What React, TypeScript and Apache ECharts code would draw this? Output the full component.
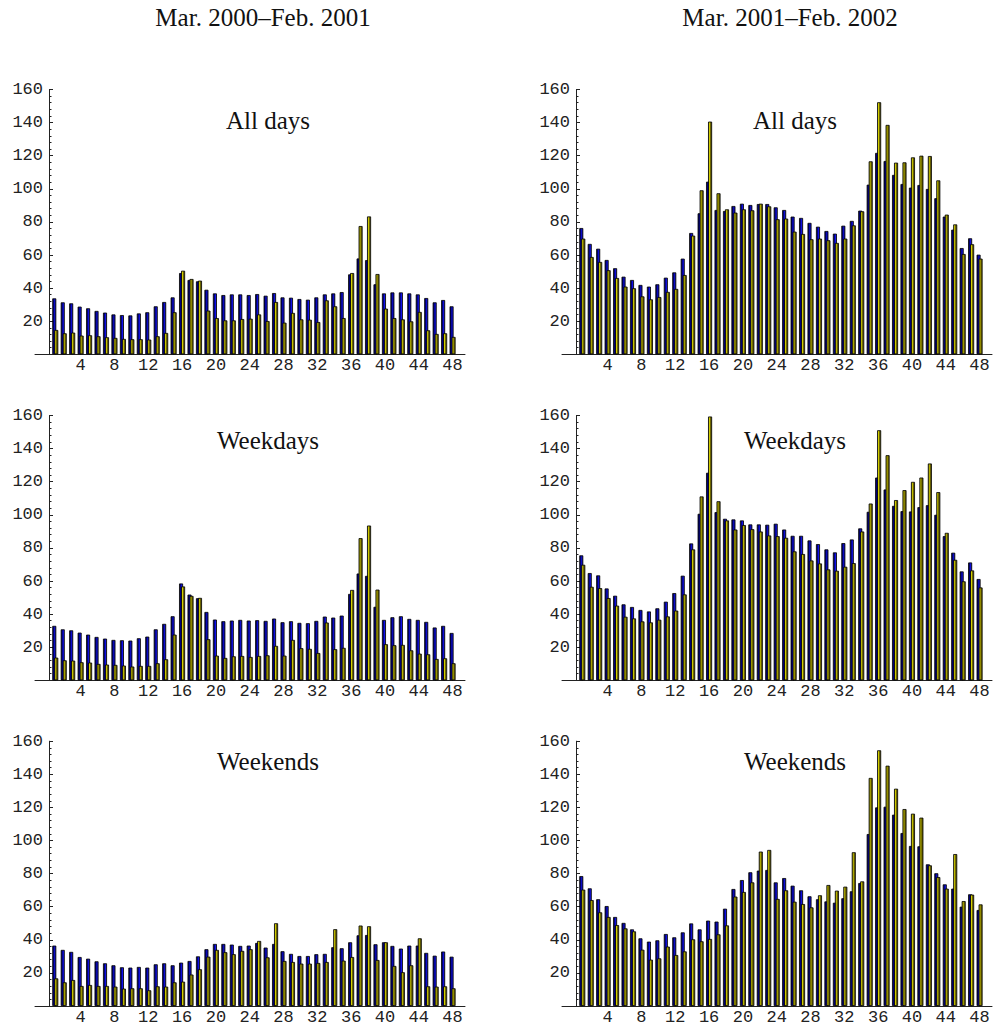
import React, { useEffect, useRef } from 'react';
import * as echarts from 'echarts';

// ---------- data ----------
const slots = [
  1, 2, 3, 4, 5, 6, 7, 8, 9, 10, 11, 12, 13, 14, 15, 16, 17, 18, 19, 20, 21, 22, 23, 24,
  25, 26, 27, 28, 29, 30, 31, 32, 33, 34, 35, 36, 37, 38, 39, 40, 41, 42, 43, 44, 45, 46, 47, 48,
];
const xTickLabels = [4, 8, 12, 16, 20, 24, 28, 32, 36, 40, 44, 48];
const yTickLabels = [20, 40, 60, 80, 100, 120, 140, 160];
const periodTitles = ['Mar. 2000–Feb. 2001', 'Mar. 2001–Feb. 2002'];
const panelTitles = ['All days', 'Weekdays', 'Weekends'];

// Mar. 2000 – Feb. 2001
const allDays2000A = [
  33.8, 31.4, 30.8, 28.8, 27.8, 26.2, 25.2, 24.1, 23.7, 23.5,
  24.7, 25.4, 29.0, 31.6, 34.4, 49.1, 44.9, 44.1, 39.0, 36.8,
  35.8, 36.2, 36.2, 35.8, 36.4, 35.4, 37.0, 34.4, 34.2, 33.4,
  33.0, 34.4, 36.2, 36.8, 37.6, 48.3, 57.9, 56.9, 42.3, 36.8,
  37.4, 37.4, 36.8, 36.2, 34.0, 31.4, 32.8, 29.0,
];
const allDays2000B = [
  14.7, 12.7, 13.1, 11.3, 11.5, 10.9, 10.3, 9.9, 9.3, 9.1,
  9.1, 8.9, 10.9, 12.9, 25.4, 50.5, 45.5, 44.5, 26.4, 21.9,
  20.5, 20.5, 21.3, 21.5, 24.1, 20.1, 31.6, 19.1, 25.0, 21.1,
  20.9, 19.5, 32.6, 29.0, 21.9, 49.1, 77.5, 83.3, 48.5, 27.6,
  21.9, 21.1, 19.9, 25.6, 14.5, 12.3, 12.7, 10.5,
];
const weekdays2000A = [
  32.9, 30.8, 30.2, 28.8, 27.6, 26.2, 25.2, 24.4, 24.2, 24.0,
  25.4, 26.4, 30.8, 34.1, 38.7, 58.5, 51.8, 49.6, 41.3, 36.7,
  35.7, 36.1, 36.5, 36.1, 36.3, 35.9, 37.3, 35.1, 35.7, 34.7,
  34.5, 35.9, 38.5, 37.9, 39.1, 52.2, 64.5, 63.1, 44.4, 36.5,
  38.1, 38.7, 37.1, 36.5, 35.3, 31.9, 32.9, 28.6,
];
const weekdays2000B = [
  13.7, 12.1, 11.9, 10.9, 10.7, 9.9, 9.5, 9.3, 8.9, 8.3,
  8.7, 8.7, 10.3, 12.7, 27.6, 56.7, 51.0, 49.8, 24.8, 14.9,
  13.5, 14.5, 14.7, 14.1, 14.7, 15.1, 20.8, 14.9, 24.4, 19.4,
  19.0, 16.5, 34.9, 18.8, 19.6, 54.6, 85.9, 93.5, 54.8, 21.8,
  21.2, 21.4, 18.1, 16.1, 15.7, 12.9, 13.3, 10.3,
];
const weekends2000A = [
  36.5, 33.9, 32.7, 29.6, 28.6, 27.0, 25.8, 24.6, 23.4, 23.2,
  23.6, 23.2, 25.2, 25.8, 24.6, 26.2, 27.2, 30.0, 34.3, 37.5,
  37.5, 37.1, 36.3, 36.5, 38.1, 35.3, 37.5, 33.1, 31.5, 30.2,
  30.2, 31.3, 31.5, 35.5, 34.9, 38.5, 42.7, 42.9, 37.3, 38.5,
  36.3, 34.7, 36.5, 36.5, 32.1, 30.4, 32.9, 29.8,
];
const weekends2000B = [
  16.7, 14.3, 15.7, 12.1, 12.7, 12.1, 12.1, 11.7, 10.5, 10.7,
  10.7, 9.5, 11.9, 11.7, 14.3, 14.7, 19.0, 22.2, 29.8, 33.9,
  32.5, 31.3, 33.3, 34.3, 39.3, 29.4, 50.0, 27.2, 26.6, 25.6,
  25.6, 26.0, 26.6, 46.4, 27.4, 29.6, 48.6, 48.2, 27.8, 38.5,
  24.2, 20.4, 24.6, 40.9, 11.9, 11.7, 11.9, 10.7,
];

// Mar. 2001 – Feb. 2002
const allDays2001A = [
  76.3, 66.7, 63.8, 57.0, 52.0, 46.9, 44.9, 41.9, 40.9, 42.3,
  46.3, 49.5, 57.8, 73.3, 85.2, 104.3, 87.2, 86.6, 89.6, 91.0,
  90.2, 90.8, 90.8, 88.8, 87.2, 83.2, 82.4, 79.4, 77.1, 74.5,
  72.9, 77.7, 80.6, 86.8, 102.5, 121.7, 116.8, 108.4, 102.9, 100.7,
  102.3, 99.9, 94.3, 83.2, 75.3, 64.2, 70.1, 60.2,
];
const allDays2001B = [
  69.9, 58.8, 55.8, 50.8, 46.1, 40.9, 39.9, 35.0, 33.2, 34.6,
  37.7, 39.5, 47.9, 71.7, 99.1, 140.6, 97.3, 87.6, 85.6, 87.6,
  87.0, 91.0, 89.4, 81.6, 82.0, 74.1, 72.7, 69.5, 69.9, 68.9,
  67.3, 69.9, 77.9, 86.4, 116.6, 152.3, 138.6, 115.8, 116.0, 119.0,
  120.0, 119.8, 105.1, 84.4, 78.5, 60.6, 66.5, 57.8,
];
const weekdays2001A = [
  75.5, 64.8, 63.4, 55.5, 51.1, 45.9, 44.3, 42.5, 41.6, 43.5,
  47.5, 52.7, 63.2, 82.7, 100.6, 125.4, 101.6, 97.6, 97.2, 96.6,
  94.2, 94.2, 94.0, 94.6, 91.1, 87.3, 87.3, 84.5, 82.3, 79.1,
  77.3, 82.9, 85.1, 91.8, 101.8, 122.5, 115.3, 105.4, 102.2, 102.0,
  104.6, 105.8, 100.0, 87.1, 77.1, 65.8, 71.2, 61.2,
];
const weekdays2001B = [
  69.8, 56.5, 55.7, 49.7, 45.1, 38.4, 37.4, 35.6, 35.0, 36.6,
  38.6, 42.1, 51.9, 79.1, 111.1, 159.4, 108.2, 96.6, 91.1, 93.8,
  91.3, 89.9, 87.5, 87.1, 86.1, 77.9, 76.3, 72.4, 70.6, 67.0,
  66.2, 68.6, 70.8, 89.9, 106.8, 151.1, 136.0, 108.9, 114.9, 119.9,
  122.5, 131.0, 113.7, 89.1, 72.8, 59.8, 66.4, 56.1,
];
const weekends2001A = [
  78.5, 71.1, 64.5, 60.4, 53.8, 50.2, 46.3, 40.9, 38.9, 39.7,
  43.5, 41.5, 44.5, 49.9, 46.3, 51.6, 51.0, 58.8, 70.7, 76.1,
  80.8, 81.8, 82.2, 74.7, 77.3, 72.7, 69.9, 66.3, 64.5, 63.2,
  62.4, 65.1, 69.3, 74.3, 103.9, 120.0, 120.4, 115.6, 104.5, 96.7,
  96.5, 85.6, 80.2, 73.5, 70.9, 60.0, 67.5, 58.0,
];
const weekends2001B = [
  70.3, 64.0, 56.6, 53.8, 48.9, 46.9, 45.1, 34.0, 28.0, 28.8,
  35.9, 30.8, 33.0, 40.3, 39.1, 40.5, 43.3, 48.7, 66.1, 68.9,
  74.7, 93.3, 94.3, 64.7, 69.9, 63.0, 61.6, 59.6, 66.9, 73.1,
  69.7, 72.1, 92.9, 75.3, 137.8, 154.5, 145.2, 131.3, 119.0, 116.2,
  113.8, 85.0, 77.9, 70.9, 91.8, 63.4, 67.3, 61.4,
];

// ---------- layout & style ----------
const W = 993;
const H = 1028;
const colLeft = [35, 562];
const gridWidth = 430;
const axisBottom = [354.3, 680.3, 1006];
const plotHeight = 264.8;
const yAxisInset = 14;
const xMin = -1.4;
const xMax = 49.47;
const titleCenterX = [268, 795];
const titleMiddleY = [120.6, 440.6, 761.6];
const headerCenterX = [263, 790];
const headerMiddleY = 17.6;

const serif = '"Liberation Serif", "Times New Roman", serif';
const mono = '"Liberation Mono", "Courier New", monospace';
const labelColor = '#222';
const axisColor = '#222';

const blueFill = new echarts.graphic.LinearGradient(0, 0, 1, 0, [
  { offset: 0, color: '#00003c' },
  { offset: 0.35, color: '#000080' },
  { offset: 0.7, color: '#1414f0' },
  { offset: 1, color: '#000050' },
]);
const yellowFill = new echarts.graphic.LinearGradient(0, 0, 1, 0, [
  { offset: 0, color: '#4f4a00' },
  { offset: 0.3, color: '#d8d400' },
  { offset: 0.55, color: '#746c00' },
  { offset: 1, color: '#4f4a00' },
]);

const panels = [
  { col: 0, row: 0, a: allDays2000A, b: allDays2000B },
  { col: 1, row: 0, a: allDays2001A, b: allDays2001B },
  { col: 0, row: 1, a: weekdays2000A, b: weekdays2000B },
  { col: 1, row: 1, a: weekdays2001A, b: weekdays2001B },
  { col: 0, row: 2, a: weekends2000A, b: weekends2000B },
  { col: 1, row: 2, a: weekends2001A, b: weekends2001B },
];

function buildOption() {
  const grid: any[] = [];
  const xAxis: any[] = [];
  const yAxis: any[] = [];
  const series: any[] = [];
  const graphic: any[] = [];

  panels.forEach((p, i) => {
    grid.push({
      left: colLeft[p.col],
      top: axisBottom[p.row] - plotHeight,
      width: gridWidth,
      height: plotHeight,
      containLabel: false,
      outerBoundsMode: 'none',
    });
    xAxis.push({
      type: 'value',
      gridIndex: i,
      min: xMin,
      max: xMax,
      splitLine: { show: false },
      axisLine: { show: true, onZero: false, lineStyle: { color: axisColor, width: 1 } },
      axisTick: { show: false },
      axisLabel: {
        show: true,
        customValues: xTickLabels,
        margin: 3,
        color: labelColor,
        fontFamily: mono,
        fontSize: 17,
        formatter: (v: number) => String(v),
      },
    });
    yAxis.push({
      type: 'value',
      gridIndex: i,
      min: 0,
      max: 160,
      interval: 20,
      offset: -yAxisInset,
      splitLine: { show: false },
      axisLine: { show: true, onZero: false, lineStyle: { color: axisColor, width: 1 } },
      axisTick: {
        show: true,
        inside: true,
        length: 4,
        customValues: yTickLabels,
        lineStyle: { color: axisColor, width: 1 },
      },
      minorTick: { show: true, splitNumber: 5, length: 2.5, lineStyle: { color: axisColor, width: 1 } },
      axisLabel: {
        show: true,
        customValues: yTickLabels,
        margin: 6,
        color: labelColor,
        fontFamily: mono,
        fontSize: 17,
        formatter: (v: number) => (v === 0 ? '' : String(v)),
      },
    });
    series.push({
      type: 'bar',
      xAxisIndex: i,
      yAxisIndex: i,
      data: slots.map((s, k) => [s, p.a[k]]),
      barWidth: 4,
      barGap: '-50%',
      silent: true,
      itemStyle: { color: blueFill, borderColor: '#000', borderWidth: 0.8 },
    });
    series.push({
      type: 'bar',
      xAxisIndex: i,
      yAxisIndex: i,
      data: slots.map((s, k) => [s, p.b[k]]),
      barWidth: 4,
      barGap: '-50%',
      silent: true,
      itemStyle: { color: yellowFill, borderColor: '#000', borderWidth: 0.8 },
    });
    graphic.push({
      type: 'text',
      x: titleCenterX[p.col],
      y: titleMiddleY[p.row],
      silent: true,
      style: {
        text: panelTitles[p.row],
        fontFamily: serif,
        fontSize: 25,
        fill: '#111',
        align: 'center',
        verticalAlign: 'middle',
      },
    });
  });

  periodTitles.forEach((t, c) => {
    graphic.push({
      type: 'text',
      x: headerCenterX[c],
      y: headerMiddleY,
      silent: true,
      style: {
        text: t,
        fontFamily: serif,
        fontSize: 25,
        fill: '#111',
        align: 'center',
        verticalAlign: 'middle',
      },
    });
  });

  return {
    animation: false,
    backgroundColor: '#fff',
    grid,
    xAxis,
    yAxis,
    series,
    graphic,
  };
}

export default function App() {
  const ref = useRef<HTMLDivElement>(null);
  useEffect(() => {
    document.body.style.margin = '0';
    document.body.style.overflow = 'hidden';
    if (!ref.current) return;
    const chart = echarts.init(ref.current, null, { renderer: 'svg', width: W, height: H });
    chart.setOption(buildOption() as any);
    return () => chart.dispose();
  }, []);
  return <div ref={ref} style={{ width: W, height: H, background: '#fff' }} />;
}
